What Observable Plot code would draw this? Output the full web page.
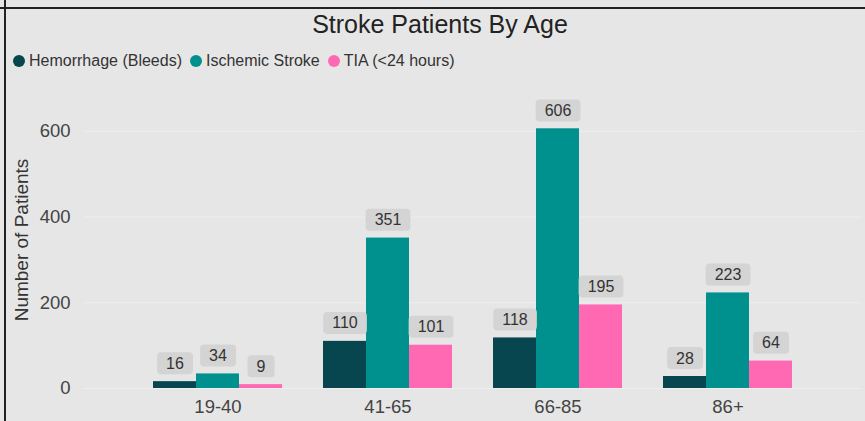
<!DOCTYPE html>
<html>
<head>
<meta charset="utf-8">
<script src="https://cdn.jsdelivr.net/npm/d3@7"></script>
<script src="https://cdn.jsdelivr.net/npm/@observablehq/plot@0.6"></script>
<style>
  html, body { margin: 0; padding: 0; background: #e6e6e6; }
  #root { position: relative; width: 865px; height: 421px; overflow: hidden; background: #e6e6e6;
          font-family: "Liberation Sans", Arial, sans-serif; }
  .hline { position: absolute; left: 0; top: 7px; width: 865px; height: 2px; background: #222; z-index: 5; }
  .vline { position: absolute; left: 4px; top: 0; width: 2px; height: 421px; background: #222; z-index: 5; }
  .title { position: absolute; left: 0; top: 12px; width: 880px; text-align: center; font-size: 25px;
           line-height: 1; color: #222; }
  .legend { position: absolute; left: 13px; top: 53px; display: flex; align-items: center;
            font-size: 16px; line-height: 16px; color: #333; white-space: nowrap; }
  .legend .item { display: inline-flex; align-items: center; margin-right: 8px; }
  .legend .dot { width: 12px; height: 12px; border-radius: 50%; margin-right: 4px; }
  .ylabel { position: absolute; left: 22px; top: 240px; transform: translate(-50%, -50%) rotate(-90deg);
            font-size: 19px; color: #333; white-space: nowrap; }
  svg { position: absolute; left: 0; top: 70px; }
</style>
</head>
<body>
<div id="root"></div>
<script>
const ageGroups = ["19-40", "41-65", "66-85", "86+"];
const strokeTypes = ["Hemorrhage (Bleeds)", "Ischemic Stroke", "TIA (<24 hours)"];
const hemorrhage = [16, 110, 118, 28];
const ischemic = [34, 351, 606, 223];
const tia = [9, 101, 195, 64];
const yTicks = [0, 200, 400, 600];
const colors = ["#07464f", "#00908d", "#ff69b4"];
const titleText = "Stroke Patients By Age";
const yLabel = "Number of Patients";

const seriesValues = [hemorrhage, ischemic, tia];
const records = [];
ageGroups.forEach((age, i) => {
  strokeTypes.forEach((type, j) => {
    records.push({age, type, count: seriesValues[j][i]});
  });
});

const root = document.getElementById("root");

const t = document.createElement("div");
t.className = "title";
t.textContent = titleText;
root.appendChild(t);

const lg = document.createElement("div");
lg.className = "legend";
strokeTypes.forEach((s, i) => {
  const it = document.createElement("span");
  it.className = "item";
  const dot = document.createElement("span");
  dot.className = "dot";
  dot.style.background = colors[i];
  const tx = document.createElement("span");
  tx.textContent = s;
  it.appendChild(dot);
  it.appendChild(tx);
  lg.appendChild(it);
});
root.appendChild(lg);

const yl = document.createElement("div");
yl.className = "ylabel";
yl.textContent = yLabel;
root.appendChild(yl);

const common = {
  width: 865,
  height: 351,
  marginLeft: 83,
  marginRight: 3,
  marginTop: 18,
  marginBottom: 33,
  style: {background: "transparent", fontFamily: "'Liberation Sans', Arial, sans-serif", fontSize: "18.5px", color: "#444", overflow: "visible"}
};

const under = Plot.plot({
  ...common,
  y: {domain: [0, 700], ticks: yTicks, tickSize: 0, tickPadding: 13, label: null},
  marks: [
    Plot.ruleY(yTicks, {stroke: "#eeeeee", strokeWidth: 1})
  ]
});
root.appendChild(under);

const chart = Plot.plot({
  ...common,
  facet: {data: records, x: "age"},
  fx: {domain: ageGroups, paddingInner: 0.232, paddingOuter: 0.40, label: null, tickSize: 0, tickPadding: 11, axis: "bottom"},
  x: {domain: strokeTypes, axis: null, padding: 0},
  y: {domain: [0, 700], axis: null},
  color: {domain: strokeTypes, range: colors},
  marks: [
    Plot.barY(records, {x: "type", y: "count", fill: "type"}),
    Plot.text(records, {x: "type", y: "count", text: d => String(d.count), dy: -18, fontSize: 16, fill: "#333"})
  ]
});
root.appendChild(chart);

d3.select(chart).selectAll('g[aria-label="text"] text').each(function () {
  const b = this.getBBox();
  const node = this;
  d3.select(this.parentNode).insert("rect", () => node)
    .attr("x", b.x - 9)
    .attr("y", b.y + b.height / 2 - 11)
    .attr("width", b.width + 18)
    .attr("height", 22)
    .attr("rx", 4)
    .attr("fill", "#d4d4d4")
    .attr("stroke", "none")
    .attr("transform", node.getAttribute("transform"));
});

const h = document.createElement("div"); h.className = "hline"; root.appendChild(h);
const v = document.createElement("div"); v.className = "vline"; root.appendChild(v);
</script>
</body>
</html>
